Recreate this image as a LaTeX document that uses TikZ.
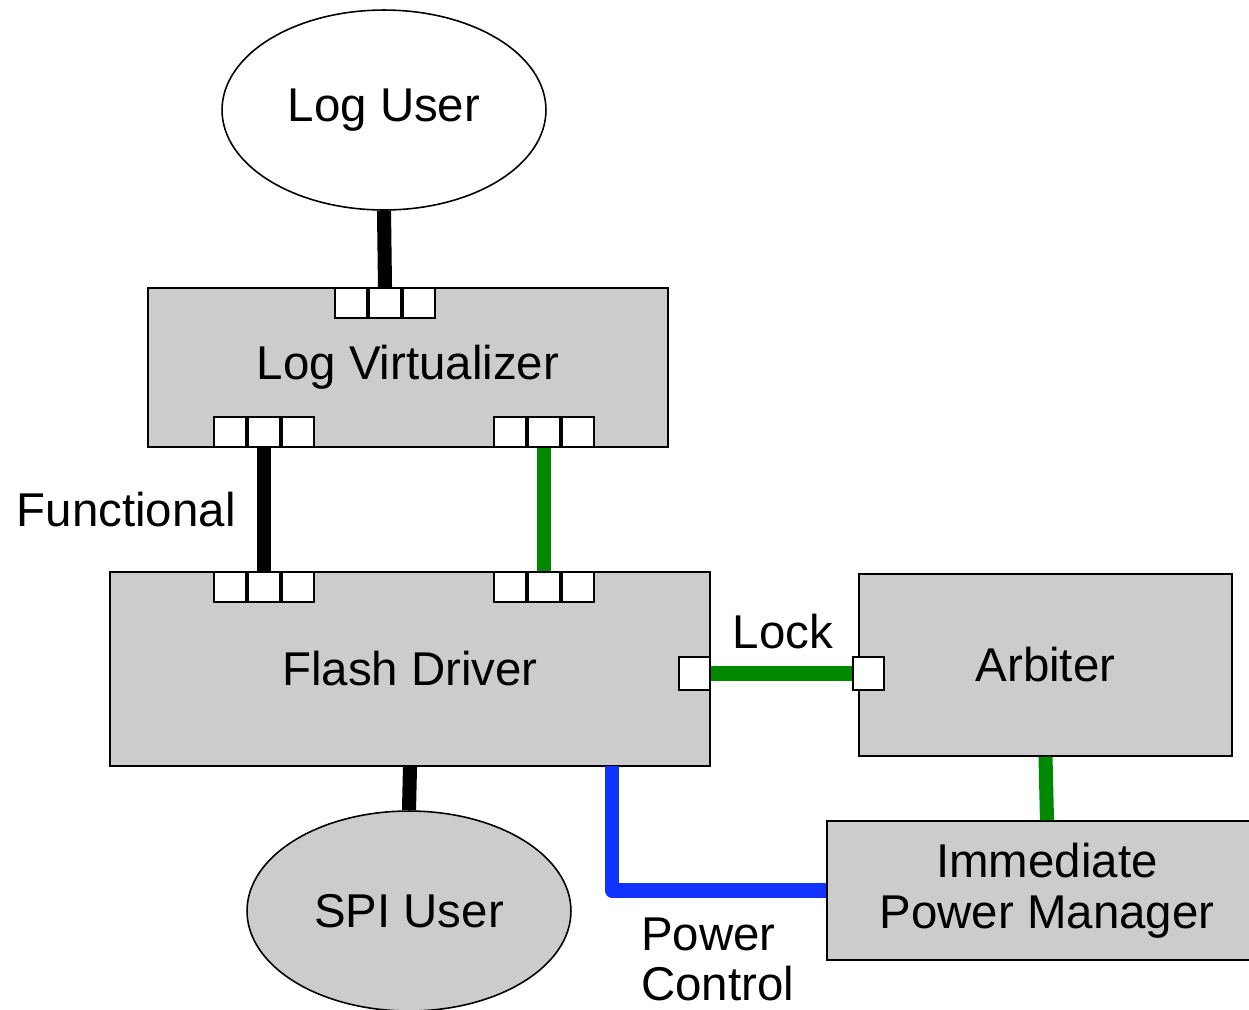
\documentclass[tikz,border=0pt]{standalone}
\usepackage{fontspec}
\setmainfont{Liberation Sans}
\usepackage{xcolor}
\usepackage{tikz}
\usetikzlibrary{shapes,arrows,positioning}

\definecolor{boxgray}{HTML}{CCCCCC}
\definecolor{lockgreen}{HTML}{008800}
\definecolor{powerblue}{HTML}{1033FF}

\begin{document}
\begin{tikzpicture}[x=0.02cm, y=-0.02cm, node distance=0pt,
        font=\fontsize{27}{29}\selectfont,
        port/.style={draw, fill=white, line width=1pt, minimum width=0.64cm, minimum height=0.6cm, inner sep=0pt},
        wire/.style={line width=8pt}]
        \useasboundingbox (0,0) rectangle (1249,1009);

        % Log User
        \node (loguser) [draw, ellipse, line width=0.9pt, minimum width=6.48cm, minimum height=4cm, inner sep=0pt] at (384,110) {Log User};

        % Log Virtualizer
        \node (logvirt) [draw, rectangle, fill=boxgray, line width=0.9pt, minimum width=10.4cm, minimum height=3.18cm] at (408,367.5) {Log Virtualizer};
        \node (lvtop) [port] at (385,303) {};
        \node (lvtopl) [port, left=0pt of lvtop] {};
        \node (lvtopr) [port, right=0pt of lvtop] {};
        \node (lvfunc) [port] at (264,432) {};
        \node (lvfuncl) [port, left=0pt of lvfunc] {};
        \node (lvfuncr) [port, right=0pt of lvfunc] {};
        \node (lvlock) [port] at (544,432) {};
        \node (lvlockl) [port, left=0pt of lvlock] {};
        \node (lvlockr) [port, right=0pt of lvlock] {};

        % Flash Driver
        \node (flash) [draw, rectangle, fill=boxgray, line width=0.9pt, minimum width=12cm, minimum height=3.88cm] at (410,669) {Flash Driver};
        \node (fdfunc) [port] at (264,587) {};
        \node (fdfuncl) [port, left=0pt of fdfunc] {};
        \node (fdfuncr) [port, right=0pt of fdfunc] {};
        \node (fdlock) [port] at (544,587) {};
        \node (fdlockl) [port, left=0pt of fdlock] {};
        \node (fdlockr) [port, right=0pt of fdlock] {};
        \node (fdarb) [port, minimum width=0.62cm, minimum height=0.66cm] at (694.5,673.5) {};

        % Arbiter
        \node (arbiter) [draw, rectangle, fill=boxgray, line width=0.9pt, minimum width=7.46cm, minimum height=3.64cm] at (1045.5,665) {Arbiter};
        \node (arbport) [port, minimum width=0.62cm, minimum height=0.66cm] at (868.5,673.5) {};

        % Power Manager
        \node (ipm) [draw, rectangle, fill=boxgray, line width=0.9pt, minimum width=8.8cm, minimum height=2.78cm, align=center] at (1047,890.5) {Immediate\\Power Manager};

        % SPI User
        \node (spiuser) [draw, ellipse, fill=boxgray, line width=0.9pt, minimum width=6.48cm, minimum height=4cm, inner sep=0pt] at (409,911) {SPI User};

        % Labels
        \node (functional) [anchor=east, inner sep=0pt] at (236,510) {Functional};
        \node (lock) [inner sep=0pt] at (783,632) {Lock};
        \node (power) [anchor=north west, align=left, inner sep=0pt] at (641,917) {Power\\Control};

        % Wires
        \coordinate (pwrout) at (612,766);
        \draw [wire] (loguser.south) -- (lvtop.north);
        \draw [wire] (lvfunc.south) -- (fdfunc.north);
        \draw [wire, lockgreen] (lvlock.south) -- (fdlock.north);
        \draw [wire, lockgreen] (fdarb.east) -- (arbport.west);
        \draw [wire, lockgreen] (arbiter.south) -- (ipm.north);
        \draw [wire] (flash.south) -- (spiuser.north);
        \draw [wire, powerblue, line join=round] (pwrout) |- (ipm.west);
    \end{tikzpicture}
\end{document}
